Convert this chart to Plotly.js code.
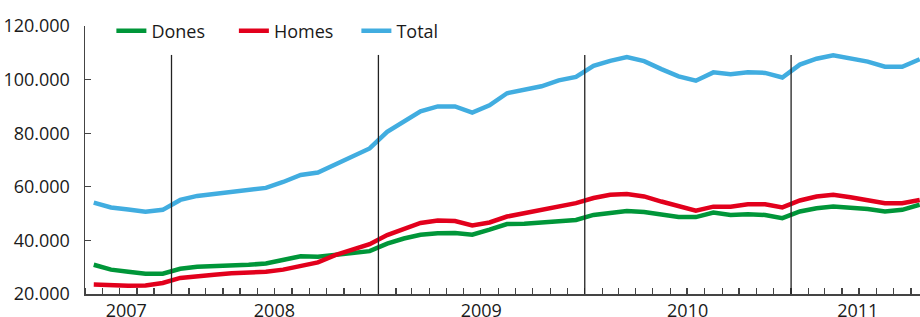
<!DOCTYPE html>
<html>
<head>
<meta charset="utf-8">
<script src="https://cdn.plot.ly/plotly-3.0.1.min.js"></script>
<style>
  html, body { margin: 0; padding: 0; background: #ffffff; }
  #chart { width: 920px; height: 317px; }
</style>
</head>
<body>
<div id="chart"></div>
<script>
// Months (Aug 2007 – Aug 2011)
const months = [
  '2007-08','2007-09','2007-10','2007-11','2007-12',
  '2008-01','2008-02','2008-03','2008-04','2008-05','2008-06','2008-07','2008-08','2008-09','2008-10','2008-11','2008-12',
  '2009-01','2009-02','2009-03','2009-04','2009-05','2009-06','2009-07','2009-08','2009-09','2009-10','2009-11','2009-12',
  '2010-01','2010-02','2010-03','2010-04','2010-05','2010-06','2010-07','2010-08','2010-09','2010-10','2010-11','2010-12',
  '2011-01','2011-02','2011-03','2011-04','2011-05','2011-06','2011-07','2011-08'
];

const dones = [
  30900, 29100, 28300, 27600, 27600,
  29400, 30200, 30300, 30700, 30900, 31400, 32700, 34100, 33900, 34500, 35100, 36000,
  38800, 40700, 42100, 42700, 42800, 42100, 44000, 46100, 46200, 46700, 47300, 47600,
  49500, 50400, 51000, 50600, 49800, 48700, 48700, 50400, 49500, 49800, 49500, 48300,
  50800, 52000, 52600, 52300, 51700, 50800, 51400, 53300
];

const homes = [
  23500, 23100, 23100, 23200, 24100,
  26000, 26800, 27200, 27700, 28000, 28300, 29100, 30500, 31800, 34500, 36700, 38600,
  42000, 44100, 46500, 47400, 47200, 45600, 46700, 48900, 50200, 51400, 52600, 53900,
  55800, 57000, 57300, 56400, 54500, 52600, 51100, 52600, 52600, 53500, 53500, 52300,
  54900, 56400, 57000, 56100, 55100, 53900, 53900, 55100
];

const total = [
  54100, 52300, 51500, 50700, 51400,
  55100, 56600, 57300, 58100, 59100, 59600, 61800, 64400, 65300, 68200, 71500, 74300,
  80500, 84200, 88200, 90000, 90000, 87700, 90400, 94900, 96200, 97500, 99700, 101000,
  105100, 107000, 108400, 106900, 103900, 101200, 99600, 102700, 102000, 102700, 102500, 100800,
  105600, 107800, 109100, 108100, 106700, 104800, 104800, 107600
];

const seriesNames = ['Dones', 'Homes', 'Total'];
const yearLabels = ['2007', '2008', '2009', '2010', '2011'];
const yearLabelPos = ['2007-10-13', '2008-07-01', '2009-07-02', '2010-07-02', '2011-04-29'];
const yearBoundaries = ['2008-01-01', '2009-01-01', '2010-01-01', '2011-01-01'];
const yTicks = [20000, 40000, 60000, 80000, 100000, 120000];

const colors = ['#009639', '#E2001C', '#41ADE0'];
const values = [dones, homes, total];

const traces = values.map((v, i) => ({
  type: 'scatter',
  mode: 'lines',
  name: seriesNames[i],
  x: months,
  y: v,
  xperiod: 'M1',
  xperiodalignment: 'middle',
  line: { color: colors[i], width: 4.5, shape: 'linear' },
  hoverinfo: 'skip'
}));

const font = { family: '"Open Sans", "DejaVu Sans", sans-serif', size: 18, color: '#1a1a1a' };

const shapes = yearBoundaries.map(d => ({
  type: 'line', xref: 'x', yref: 'y',
  x0: d, x1: d, y0: 20000, y1: 109200,
  line: { color: '#222222', width: 1.3 }
}));

const layout = {
  width: 920, height: 317,
  margin: { l: 85, r: 0, t: 26, b: 23 },
  paper_bgcolor: '#ffffff',
  plot_bgcolor: '#ffffff',
  separators: ',.',
  font: font,
  showlegend: true,
  legend: {
    orientation: 'h',
    x: 0.0316, xanchor: 'left',
    y: 0.981, yanchor: 'middle',
    bgcolor: 'rgba(0,0,0,0)',
    font: font,
    itemwidth: 30,
    entrywidth: 77.5
  },
  xaxis: {
    type: 'date',
    range: ['2007-08-01', '2011-08-17'],
    showline: true, linecolor: '#444444', linewidth: 1.5,
    showgrid: false, zeroline: false,
    tickmode: 'array',
    tickvals: yearLabelPos,
    ticktext: yearLabels,
    ticks: '',
    tickfont: font,
    minor: {
      ticks: 'inside', ticklen: 6, tickwidth: 1.2, tickcolor: '#444444',
      dtick: 'M1', tick0: '2007-01-01', showgrid: false
    },
    fixedrange: true
  },
  yaxis: {
    range: [20000, 120000],
    showline: true, linecolor: '#444444', linewidth: 1.5,
    showgrid: false, zeroline: false,
    tickmode: 'array',
    tickvals: yTicks,
    tickformat: ',d',
    ticks: 'inside', ticklen: 6, tickwidth: 1.2, tickcolor: '#444444',
    ticklabelstandoff: 10,
    tickfont: font,
    fixedrange: true
  },
  shapes: shapes
};

Plotly.newPlot('chart', traces, layout, { staticPlot: true, displayModeBar: false });
</script>
</body>
</html>
